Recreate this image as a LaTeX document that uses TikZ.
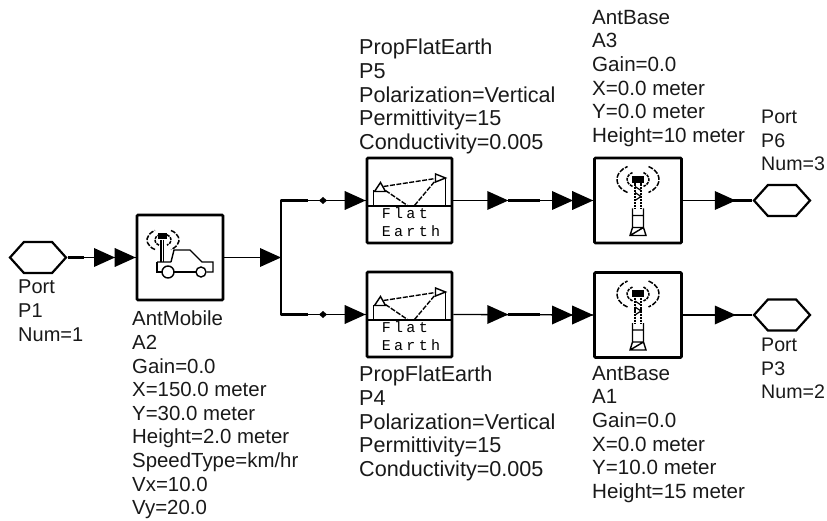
\documentclass[tikz,border=0pt]{standalone}
\usepackage{fontspec}
\setmainfont{Liberation Sans}
\newfontfamily\iconfont[LetterSpace=22]{Liberation Mono}
\usetikzlibrary{shapes.geometric,calc}
\tikzset{
 x=1pt,y=-1pt,
 lbl/.style={anchor=north west,align=left,inner sep=0pt,text=black!90,font=\fontsize{#1}{23.6}\selectfont},
 blk/.style={draw,line width=2.6pt,rounded corners=1pt,minimum width=85pt,minimum height=85pt,inner sep=0pt},
 hex/.style={draw,line width=2.2pt,regular polygon,regular polygon sides=6,minimum size=36pt,inner sep=0pt,xscale=1.556,transform shape},
 wire/.style={line width=1.3pt},
 bus/.style={line width=2.4pt,line join=round},
 icon/.style={line width=1.4pt},
 dashin/.style={line width=1.5pt,dash pattern=on 3pt off 1pt},
 dashout/.style={line width=1.5pt,dash pattern=on 5pt off 1.5pt},
 tri/.pic={\fill (-21,-9.5) -- (0,0) -- (-21,9.5) -- cycle;},
 tower/.pic={
  \fill (-6,-24.5) rectangle (6,-17.5);
  \draw[line width=1.5pt,dash pattern=on 2.2pt off .9pt] (-3,-17) -- (-3,8) (3,-17) -- (3,8);
  \draw[line width=1.2pt] (-3,-14) -- (3,-10) (-3,-8) -- (3,-4) (3,-4)--(-3,0);
  \draw[icon] (-5.5,8) -- (-5.5,27) (5.5,8) -- (5.5,27) (-5.5,15) -- (5.5,15) (-8,35) -- (-5.5,27) -- (5.5,27) -- (8,35) -- cycle (-8,35) -- (5.5,27);
  \draw[dashin] (0,-21) ++(120:11 and 8) arc[start angle=120,end angle=240,x radius=11,y radius=8];
  \draw[dashin] (0,-21) ++(-60:11 and 8) arc[start angle=-60,end angle=60,x radius=11,y radius=8];
  \draw[dashout] (0,-21) ++(120:21 and 15) arc[start angle=120,end angle=240,x radius=21,y radius=15];
  \draw[dashout] (0,-21) ++(-60:21 and 15) arc[start angle=-60,end angle=60,x radius=21,y radius=15];
 },
 flatearth/.pic={
  \draw[icon] (-36,5.5) -- (-36,-10) (36,-22) -- (36,5.5);
  \draw[icon] (-35,-9) -- (-29,-18) -- (-24,-9) -- cycle (26,-26.5) -- (36,-22.5) -- (26,-18.5) -- cycle;
  \draw[line width=1.4pt,dash pattern=on 5pt off 1.5pt] (-26,-14) -- (26,-22) (-24,-10) -- (-2,5);
  \draw[line width=1.4pt,dash pattern=on 5pt off 1.5pt] (5,5) -- (26,-20);
  \node[inner sep=0pt,align=left,font=\iconfont\fontsize{15}{18}\selectfont] (txt) at (1.5,22) {Flat\\Earth};
 },
 carant/.pic={
  \fill (-4.5,-6.5) rectangle (4.5,-1);
  \draw[icon] (-1,0) -- (-1,22) (1.5,0) -- (1.5,22);
  \draw[icon] (-5,22) -- (9,22) (9,22) -- (12,10) -- (28,10) -- (40,22) -- (51,22) -- (51,32) -- (45,32);
  \draw[icon] (-5,22) -- (-5,32) -- (0,32) (12,32) -- (34,32);
  \draw[icon] (6,32) circle[radius=6] (39,32) circle[radius=5];
  \draw[dashin] (1,0) ++(120:8 and 6) arc[start angle=120,end angle=240,x radius=8,y radius=6];
  \draw[dashin] (1,0) ++(-60:8 and 6) arc[start angle=-60,end angle=60,x radius=8,y radius=6];
  \draw[dashout] (1,0) ++(120:16 and 11) arc[start angle=120,end angle=240,x radius=16,y radius=11];
  \draw[dashout] (1,0) ++(-60:16 and 11) arc[start angle=-60,end angle=60,x radius=16,y radius=11];
 },
}
\begin{document}
\begin{tikzpicture}
\useasboundingbox (0,0) rectangle (827,521);
% blocks
\node[blk,minimum width=86pt] (a2) at (180,257.5) {};
\node[blk] (p5) at (409.5,200.5) {};
\node[blk] (p4) at (409.5,314.5) {};
\node[blk,minimum width=87pt] (a3) at (638,200.5) {};
\node[blk,minimum width=87pt] (a1) at (638,315) {};
\node[hex] (p1) at (38,257.5) {};
\node[hex] (p6) at (782,200.5) {};
\node[hex] (p3) at (782,315) {};
% coordinates
\coordinate (j) at (281,257.5);
\coordinate (jt) at (281,200.5);
\coordinate (jb) at (281,314.5);
% connectors
\draw[wire] (p1.east) -- (a2.west);
\draw[wire] (a2.east) -- (j);
\draw[bus] ($(jt)+(27,0)$) -- (jt) -- (jb) -- ++(27,0);
\draw[wire] (jt) -- (p5.west);
\draw[wire] (jb) -- (p4.west);
\draw[wire] (p5.east) -- (a3.west);
\draw[wire] (p4.east) -- (a1.west);
\draw[wire] (a3.east) -- (p6.west);
\draw[wire] (a1.east) -- (p3.west);
\draw[bus] (p1.east) -- ++(16,0);
\draw[bus] (a3.east) ++(50,0) -- (p6.west);
\draw[bus] (a1.east) ++(50,0) -- (p3.west);
\draw[bus] (p5.east) ++(55,0) -- ++(32,0);
\draw[bus] (p4.east) ++(55,0) -- ++(32,0);
% arrow marks
\pic at (115,257.5) {tri};
\pic at (a2.west) {tri};
\pic at (j) {tri};
\pic at (p5.west) {tri};
\pic at (p4.west) {tri};
\pic at ($(p5.east)+(55,0)$) {tri};
\pic at ($(p4.east)+(55,0)$) {tri};
\pic at (573,200.5) {tri};
\pic at (a3.west) {tri};
\pic at (573,315) {tri};
\pic at (a1.west) {tri};
\pic at ($(a3.east)+(53,0)$) {tri};
\pic at ($(a1.east)+(53,0)$) {tri};
% small dots on the upper and lower branch
\fill (323,197) -- (327,200.5) -- (323,204) -- (319,200.5) -- cycle;
\fill (323,311) -- (327,314.5) -- (323,318) -- (319,314.5) -- cycle;
% flat earth dividers and icons
\draw[line width=2.4pt] (p5.west |- 0,206) -- (p5.east |- 0,206);
\draw[line width=2.4pt] (p4.west |- 0,320) -- (p4.east |- 0,320);
\pic (e1) at (p5.center) {flatearth};
\pic (e2) at (p4.center) {flatearth};
\pic at (638,200.5) {tower};
\pic at (638,315) {tower};
\pic at (162,240) {carant};
% labels
\node[lbl=20] (lp1) at (18,280) {Port\\P1\\Num=1};
\node[lbl=20.4] (la2) at (132,311) {AntMobile\\A2\\Gain=0.0\\X=150.0 meter\\Y=30.0 meter\\Height=2.0 meter\\SpeedType=km/hr\\Vx=10.0\\Vy=20.0};
\node[lbl=21.6] (lp5) at (359,39) {PropFlatEarth\\P5\\Polarization=Vertical\\Permittivity=15\\Conductivity=0.005};
\node[lbl=21.6] (lp4) at (359,366) {PropFlatEarth\\P4\\Polarization=Vertical\\Permittivity=15\\Conductivity=0.005};
\node[lbl=20.6] (la3) at (592,10) {AntBase\\A3\\Gain=0.0\\X=0.0 meter\\Y=0.0 meter\\Height=10 meter};
\node[lbl=20.6] (la1) at (592,366) {AntBase\\A1\\Gain=0.0\\X=0.0 meter\\Y=10.0 meter\\Height=15 meter};
\node[lbl=19.6] (lp6) at (761,110) {Port\\P6\\Num=3};
\node[lbl=19.6] (lp3) at (761,338) {Port\\P3\\Num=2};
\end{tikzpicture}
\end{document}
